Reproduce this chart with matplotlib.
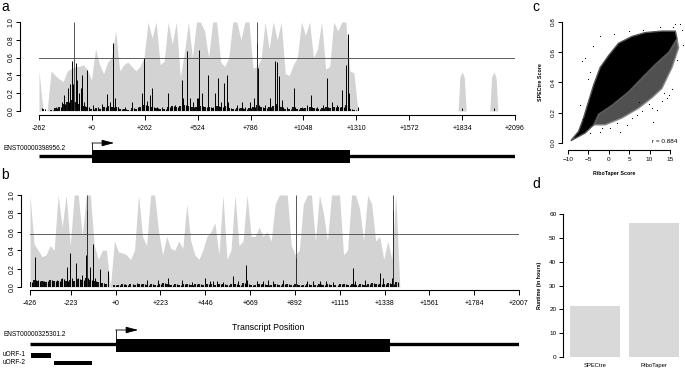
import numpy as np
import matplotlib.pyplot as plt
from matplotlib.patches import Rectangle

plt.rcParams['font.family'] = ['Liberation Sans', 'DejaVu Sans']

W, H = 685, 371  # figure size in pixels

# ---------------- panel a : ENST00000398956.2 -----------------
a_start, a_step = -262, 20
a_gray = [0.45, 0.0, 0.0, 0.45, 0.40, 0.36, 0.33, 0.45, 0.48, 0.50,
          0.50, 0.52, 0.46, 0.35, 0.70, 0.52, 0.42, 0.55, 0.60, 0.90,
          0.45, 0.52, 0.55, 0.50, 0.45, 0.50, 0.60, 1.0, 0.82, 1.0,
          0.52, 0.56, 1.0, 0.75, 1.0, 0.38, 0.65, 1.0, 0.60, 1.0,
          1.0, 0.90, 0.60, 1.0, 1.0, 0.55, 0.50, 0.60, 1.0, 1.0,
          0.80, 1.0, 1.0, 0.48, 0.50, 0.58, 1.0, 0.70, 1.0, 0.80,
          1.0, 0.42, 0.40, 0.52, 0.60, 1.0, 0.85, 1.0, 0.60, 0.70,
          1.0, 0.47, 0.50, 1.0, 0.90, 1.0, 1.0, 0.45, 0.43, 0.0]
a_floor = [0.0, 0.02, 0.0, 0.01, 0.03, 0.04, 0.08, 0.10, 0.12, 0.10,
           0.08, 0.06, 0.05, 0.02, 0.03, 0.02, 0.04, 0.06, 0.05, 0.05,
           0.02, 0.02, 0.01, 0.03, 0.02, 0.05, 0.07, 0.06, 0.05, 0.03,
           0.02, 0.02, 0.05, 0.06, 0.05, 0.06, 0.07, 0.06, 0.04, 0.05,
           0.06, 0.04, 0.05, 0.03, 0.06, 0.05, 0.06, 0.03, 0.02, 0.03,
           0.03, 0.02, 0.03, 0.05, 0.07, 0.04, 0.03, 0.05, 0.06, 0.08,
           0.05, 0.02, 0.02, 0.04, 0.02, 0.03, 0.03, 0.04, 0.03, 0.02,
           0.03, 0.04, 0.03, 0.04, 0.05, 0.05, 0.07, 0.02, 0.01, 0.0]
a_spk_pos = [-245, -179, -150, -136, -117, -108, -100, -95, -80, -72, -64, -56,
             -51, -39, -26, 7, 32, 48, 73, 90, 106, 114, 131, 164, 197, 230,
             246, 260, 271, 288, 299, 321, 346, 379, 395, 412, 445, 453, 469,
             486, 502, 527, 519, 530, 544, 577, 601, 610, 623, 639, 656, 667,
             676, 717, 742, 758, 783, 805, 819, 824, 857, 882, 907, 918, 928,
             940, 965, 1001, 1039, 1064, 1087, 1113, 1146, 1166, 1191, 1212,
             1240, 1257, 1267, 1273, 1316, 1834, 1991]
a_spk_val = [0.03, 0.05, 0.10, 0.18, 0.26, 0.30, 0.56, 0.30, 0.54, 0.35, 0.20, 0.26,
             0.41, 0.10, 0.46, 0.07, 0.05, 0.08, 0.19, 0.10, 0.76, 0.15, 0.05, 0.04,
             0.10, 0.05, 0.20, 0.60, 0.11, 0.18, 0.26, 0.05, 0.04, 0.20, 0.05, 0.07,
             0.35, 0.15, 0.67, 0.15, 0.10, 0.15, 0.15, 0.69, 0.20, 0.41, 0.05, 0.20,
             0.37, 0.10, 0.31, 0.41, 0.10, 0.07, 0.10, 0.05, 0.10, 0.15, 0.76, 0.48,
             0.07, 0.15, 0.56, 0.55, 0.39, 0.12, 0.05, 0.26, 0.05, 0.07, 0.18, 0.05,
             0.07, 0.37, 0.10, 0.07, 0.24, 0.52, 0.86, 0.20, 0.05, 0.03, 0.03]
a_dark = [-87, 819]
a_isl_x = [[1814, 1823, 1834, 1845, 1854], [1971, 1980, 1991, 2002, 2011]]
a_isl_y = [0.0, 0.38, 0.44, 0.38, 0.0]
a_thresh = 0.596
a_ticks = [-262, 0, 262, 524, 786, 1048, 1310, 1572, 1834, 2096]
a_tx = [-262, 2100]      # transcript
a_cds = [0, 1278]

# ---------------- panel b : ENST00000325301.2 -----------------
b_start, b_step = -426, 20
b_gray = [1.0, 0.47, 0.40, 0.33, 0.35, 0.45, 0.40, 1.0, 0.65, 1.0,
          0.45, 1.0, 1.0, 0.55, 1.0, 1.0, 0.45, 0.30, 0.40, 0.40,
          0.0, 0.50, 0.38, 0.37, 0.35, 0.30, 0.40, 1.0, 0.55, 0.45,
          1.0, 1.0, 0.60, 0.35, 0.55, 0.42, 0.40, 0.50, 0.42, 0.90,
          0.50, 0.35, 0.30, 0.40, 0.55, 0.60, 0.70, 0.35, 1.0, 0.30,
          0.40, 1.0, 0.45, 0.50, 1.0, 0.55, 0.55, 0.65, 0.55, 0.60,
          0.50, 0.90, 1.0, 1.0, 1.0, 0.45, 0.35, 0.40, 0.90, 1.0,
          1.0, 0.50, 1.0, 0.80, 0.50, 1.0, 1.0, 1.0, 0.35, 0.40,
          1.0, 1.0, 0.85, 0.50, 1.0, 0.90, 0.50, 0.55, 0.30, 0.50,
          0.30, 1.0, 0.0]
b_floor = [0.05, 0.08, 0.06, 0.07, 0.05, 0.08, 0.07, 0.06, 0.09, 0.07,
           0.08, 0.06, 0.09, 0.08, 0.10, 0.08, 0.06, 0.05, 0.04, 0.03,
           0.0, 0.02, 0.02, 0.03, 0.02, 0.03, 0.02, 0.03, 0.03, 0.02,
           0.03, 0.02, 0.03, 0.04, 0.03, 0.02, 0.03, 0.02, 0.03, 0.03,
           0.02, 0.03, 0.03, 0.02, 0.03, 0.03, 0.02, 0.03, 0.03, 0.02,
           0.03, 0.03, 0.02, 0.04, 0.03, 0.02, 0.02, 0.03, 0.03, 0.02,
           0.02, 0.03, 0.02, 0.03, 0.03, 0.02, 0.03, 0.02, 0.02, 0.03,
           0.02, 0.02, 0.03, 0.02, 0.03, 0.02, 0.02, 0.03, 0.03, 0.02,
           0.03, 0.02, 0.03, 0.02, 0.03, 0.04, 0.03, 0.03, 0.03, 0.04,
           0.03, 0.05, 0.0]
b_spk_pos = [-401, -385, -360, -335, -293, -269, -244, -227, -219, -199, -186,
             -166, -149, -141, -128, -111, -103, -78, -37, 46, 104, 154, 212,
             262, 328, 378, 444, 469, 486, 502, 535, 582, 610, 648, 655, 701,
             734, 759, 784, 834, 897, 950, 983, 1016, 1049, 1082, 1179, 1190,
             1240, 1315, 1328, 1373, 1381]
b_spk_val = [0.33, 0.08, 0.06, 0.07, 0.08, 0.10, 0.22, 0.37, 0.10, 0.26, 0.10,
             0.13, 0.35, 0.84, 0.22, 0.47, 0.10, 0.20, 0.17, 0.03, 0.04, 0.08, 0.08,
             0.10, 0.08, 0.05, 0.10, 0.07, 0.07, 0.06, 0.05, 0.12, 0.07, 0.24, 0.08,
             0.06, 0.07, 0.08, 0.07, 0.08, 0.31, 0.07, 0.06, 0.07, 0.06, 0.05, 0.21,
             0.07, 0.08, 0.15, 0.10, 0.10, 0.84]
b_dark = [-141, 897, 1381]
b_thresh = 0.576
b_ticks = [-426, -223, 0, 223, 446, 669, 892, 1115, 1338, 1561, 1784, 2007]
b_tx = [-426, 2012]
b_cds = [0, 1365]
b_uorfs = [[-421, -321], [-306, -118]]
b_uorf_names = ['uORF-1', 'uORF-2']

# ---------------- panel c : SPECtre vs RiboTaper -----------------
# outline of the solid part of the point cloud
c_core_x = [-9.3, -5.8, -3.7, -2.5, 0.8, 4.9, 8.1, 11.4, 14.7, 16.7, 16.3,
            13.0, 8.9, 5.7, 2.4, 0.0, -2.1, -3.7, -4.9, -6.2, -7.4]
c_core_y = [0.015, 0.066, 0.12, 0.19, 0.25, 0.34, 0.43, 0.52, 0.60, 0.69, 0.74,
            0.74, 0.73, 0.705, 0.66, 0.58, 0.50, 0.385, 0.28, 0.165, 0.077]
# outline of the speckled lower band
c_band_x = [-3.7, -0.9, 3.2, 7.3, 10.6, 13.0, 15.5, 17.1, 16.7,
            14.7, 11.4, 8.1, 4.9, 0.8, -2.5]
c_band_y = [0.12, 0.12, 0.165, 0.23, 0.30, 0.36, 0.50, 0.63, 0.69,
            0.60, 0.52, 0.43, 0.34, 0.25, 0.19]
c_out_x = [-5.8, -3.8, 18.2, 10.9, 4.4, 6.8, 14.2, 15.4, 0.3, 8.5, 12.5,
           15.7, 16.2, -2.2, -6.2, -2.2, 2.7, -4.6, 11.8, 13.5, 7.5, -6.6,
           1.2, 4.9, 17.5, 17.9, 8.1, 10.6, 13.0, 14.7, 5.7, -1.7, -4.6,
           -7.0, -5.2, 2.0, 9.8, 16.8]
c_out_y = [0.56, 0.64, 0.65, 0.14, 0.12, 0.185, 0.30, 0.36, 0.10, 0.75, 0.77,
           0.77, 0.79, 0.71, 0.16, 0.075, 0.075, 0.47, 0.22, 0.33, 0.27, 0.54,
           0.72, 0.74, 0.79, 0.75, 0.21, 0.23, 0.28, 0.32, 0.165, 0.10, 0.066,
           0.25, 0.42, 0.13, 0.26, 0.55]
c_r = 'r = 0.884'

# ---------------- panel d : runtime -----------------
d_tools = ['SPECtre', 'RiboTaper']
d_hours = [21.4, 56.4]


def rect(x0, y0, x1, y1):
    # pixel box (top-left origin) -> figure fraction
    return [x0 / W, 1 - y1 / H, (x1 - x0) / W, (y1 - y0) / H]


def pt(px):
    return px * 0.72


fig = plt.figure(figsize=(W / 100, H / 100), dpi=100)

GRAY = '#d3d3d3'


def track(box, start, step, gray, floor, spos, sval, dark, thresh, ticks,
          xlim, left_out, bot_out):
    ax = fig.add_axes(rect(*box))
    pos = start + step * np.arange(len(gray))
    ax.fill_between(pos, 0, gray, color=GRAY, lw=0)
    ax.vlines(pos, 0, floor, color='black', lw=1.3)
    ax.vlines(pos + step / 2, 0, floor, color='black', lw=0.8)
    ax.vlines(spos, 0, sval, color='black', lw=0.7)
    ax.vlines(dark, 0, 1, color='#3a3a3a', lw=0.6)
    ax.axhline(thresh, color='#444444', lw=0.6)
    ax.axhline(0, color='#777777', lw=0.6)
    ax.set_xlim(*xlim)
    ax.set_ylim(0, 1)
    for s in ['top', 'right']:
        ax.spines[s].set_visible(False)
    ax.spines['left'].set_position(('outward', pt(left_out)))
    ax.spines['bottom'].set_position(('outward', pt(bot_out)))
    ax.spines['left'].set_bounds(0, 1)
    ax.spines['bottom'].set_bounds(ticks[0], ticks[-1])
    for s in ['left', 'bottom']:
        ax.spines[s].set_linewidth(0.8)
    ax.set_yticks([0, 0.2, 0.4, 0.6, 0.8, 1.0])
    ax.set_yticklabels(['0.0', '0.2', '0.4', '0.6', '0.8', '1.0'],
                       rotation=90, va='center')
    ax.set_xticks(ticks)
    ax.set_xticklabels([f'{t:+d}' for t in ticks])
    ax.tick_params(axis='both', labelsize=5, length=pt(4), width=0.7,
                   pad=1.2)
    ax.tick_params(axis='x', length=pt(5), pad=3.5)
    return ax


ax_a = track((39, 22, 515, 111), a_start, a_step, a_gray, a_floor,
             a_spk_pos, a_spk_val, a_dark, a_thresh, a_ticks,
             (-262, 2096), 19, 4)
for ix in a_isl_x:
    ax_a.fill_between(ix, 0, a_isl_y, color=GRAY, lw=0)

ax_b = track((30, 195, 519, 287), b_start, b_step, b_gray, b_floor,
             b_spk_pos, b_spk_val, b_dark, b_thresh, b_ticks,
             (-426, 2007), 9, 3)


def gene(box, xlim, tx, cds, line_y, box_y, arrow_y, arrow_len):
    g = fig.add_axes(rect(*box))
    g.set_xlim(*xlim)
    g.set_ylim(box[3], box[1])
    g.axis('off')
    g.plot(tx, [line_y, line_y], color='black', lw=2.4,
           solid_capstyle='butt')
    g.add_patch(Rectangle((cds[0], box_y[0]), cds[1] - cds[0],
                          box_y[1] - box_y[0], color='black', lw=0))
    g.plot([cds[0], cds[0]], [box_y[0], arrow_y], color='black', lw=0.6)
    g.annotate('', xy=(cds[0] + arrow_len, arrow_y), xytext=(cds[0], arrow_y),
               arrowprops=dict(arrowstyle='-|>,head_length=0.75,head_width=0.2',
                               lw=0.6, color='black', shrinkA=0, shrinkB=0))
    return g


gene((39, 136, 515, 170), (-262, 2096), a_tx, a_cds, 155.5, (150, 163), 143, 110)
g_b = gene((30, 324, 519, 368), (-426, 2007), b_tx, b_cds, 343.5, (339, 352), 330, 112)
for (u0, u1), yy in zip(b_uorfs, [(353, 357.5), (360.5, 365)]):
    g_b.add_patch(Rectangle((u0, yy[0]), u1 - u0, yy[1] - yy[0],
                            color='black', lw=0))

fig.text(3 / W, 1 - 148 / H, 'ENST00000398956.2', fontsize=4.7, va='center')
fig.text(3 / W, 1 - 335 / H, 'ENST00000325301.2', fontsize=4.7, va='center')
for name, yy in zip(b_uorf_names, [355, 363]):
    fig.text(3 / W, 1 - yy / H, name, fontsize=4.7, va='center')
fig.text(268 / W, 1 - 327 / H, 'Transcript Position', fontsize=6.3,
         ha='center', va='center')

# panel letters
for lab, x, y in [('a', 1, 0), ('b', 1, 168), ('c', 532, 0), ('d', 532, 177)]:
    fig.text(x / W, 1 - y / H, lab, fontsize=10, va='top')

# ---------------- panel c ----------------
ax_c = fig.add_axes(rect(563.9, 19, 684.3, 146))
ax_c.fill(c_band_x, c_band_y, facecolor='#505050', edgecolor='#8a8a8a', lw=1.0)
ax_c.fill(c_core_x, c_core_y, facecolor='black', edgecolor='#555555', lw=1.0)
ax_c.scatter(c_out_x, c_out_y, s=0.7, color='black', lw=0)
ax_c.set_xlim(-11, 18.5)
ax_c.set_ylim(-0.02, 0.82)
for s in ['top', 'right']:
    ax_c.spines[s].set_visible(False)
ax_c.spines['left'].set_position(('outward', pt(2)))
ax_c.spines['bottom'].set_position(('outward', pt(4)))
ax_c.spines['left'].set_bounds(0, 0.8)
ax_c.spines['bottom'].set_bounds(-10, 15)
for s in ['left', 'bottom']:
    ax_c.spines[s].set_linewidth(0.8)
ax_c.set_xticks([-10, -5, 0, 5, 10, 15])
ax_c.set_yticks([0, 0.2, 0.4, 0.6, 0.8])
ax_c.set_yticklabels(['0.0', '0.2', '0.4', '0.6', '0.8'], rotation=90,
                     va='center')
ax_c.tick_params(axis='both', labelsize=4.6, length=pt(4), width=0.7, pad=1.5)
ax_c.tick_params(axis='x', pad=2.5)
ax_c.text(16.7, 0.01, c_r, fontsize=4.6, ha='right', va='center')
fig.text(614 / W, 1 - 174 / H, 'RiboTaper Score', fontsize=3.8,
         fontweight='bold', ha='center', va='center')
fig.text(540 / W, 1 - 82 / H, 'SPECtre Score', fontsize=3.8,
         fontweight='bold', ha='center', va='center', rotation=90)

# ---------------- panel d ----------------
ax_d = fig.add_axes(rect(562.5, 214, 681, 357))
ax_d.bar([0, 1], d_hours, width=0.847, color='#d9d9d9', lw=0)
ax_d.set_xlim(-0.55, 1.45)
ax_d.set_ylim(0, 60)
for s in ['top', 'right', 'bottom']:
    ax_d.spines[s].set_visible(False)
ax_d.spines['left'].set_linewidth(0.8)
ax_d.set_yticks(range(0, 61, 10))
ax_d.set_xticks([0, 1])
ax_d.set_xticklabels(d_tools)
ax_d.tick_params(axis='y', labelsize=4.6, length=pt(4), width=0.7, pad=1.5)
ax_d.tick_params(axis='x', labelsize=4.2, length=0, pad=4)
fig.text(540 / W, 1 - 285 / H, 'Runtime (in hours)', fontsize=3.8,
         fontweight='bold', ha='center', va='center', rotation=90)

fig.savefig('out.png', dpi=100)
